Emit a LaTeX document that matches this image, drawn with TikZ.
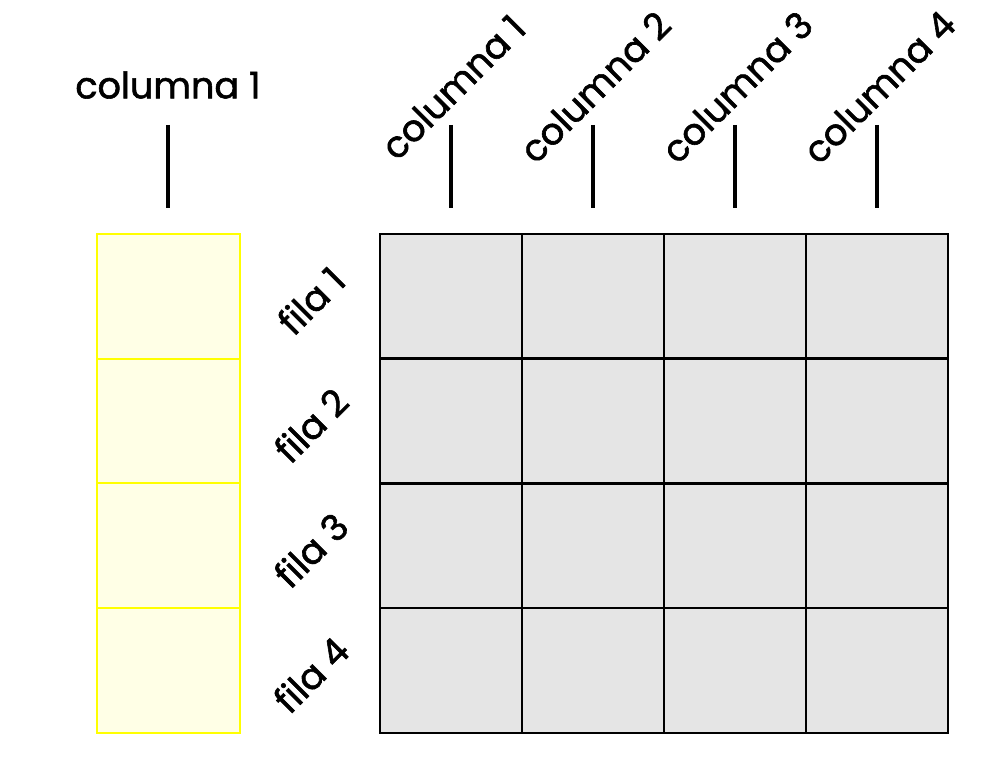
\documentclass[tikz,border=0pt]{standalone}
\usepackage{fontspec}
\setmainfont{Poppins}
\newfontfamily\mano{Poppins}[FakeBold=1.6]
\usetikzlibrary{positioning}
\definecolor{amarillo}{HTML}{FFFF00}
\definecolor{amarillito}{HTML}{FFFFE6}
\tikzset{
  celda/.style={draw=black, fill=black!10, line width=1.8pt, minimum width=3.55cm, minimum height=3.12cm, inner sep=0pt, outer sep=0pt},
  amarilla/.style={draw=amarillo, fill=amarillito, line width=1.4pt, minimum width=3.575cm, minimum height=3.12cm, inner sep=0pt, outer sep=0pt},
  marca/.style={line width=2.8pt, line cap=butt},
  etiqueta/.style={inner sep=0pt, font=\mano\fontsize{26}{30}\selectfont}
}
\begin{document}
\begin{tikzpicture}[x=0.025cm, y=-0.025cm]
  \useasboundingbox (0,0) rectangle (1005,766);

  % columna suelta
  \foreach \f in {1,...,4}
    \node[amarilla] (a\f) at (168.5, {234+124.75*(\f-0.5)}) {};
  \node[etiqueta] (col0) at (168,85) {columna 1};
  \coordinate (m0) at (168,125);
  \draw[marca] (m0) -- ++(0,83);

  % tabla
  \foreach \f in {1,...,4}
    \foreach \c in {1,...,4}
      \node[celda] (t\f\c) at ({380+142*(\c-0.5)}, {234+124.75*(\f-0.5)}) {};

  % nombres de columnas
  \foreach \c in {1,...,4} {
    \coordinate (m\c) at ({380+142*(\c-0.5)},125);
    \draw[marca] (m\c) -- ++(0,83);
    \node[etiqueta, rotate=45] (col\c) at ({382+142*(\c-0.5)},87) {columna \c};
  }

  % nombres de filas
  \foreach \f in {1,...,4}
    \node[etiqueta, rotate=45] (fila\f) at (311, {238+124.75*(\f-0.5)}) {fila \f};
\end{tikzpicture}
\end{document}
